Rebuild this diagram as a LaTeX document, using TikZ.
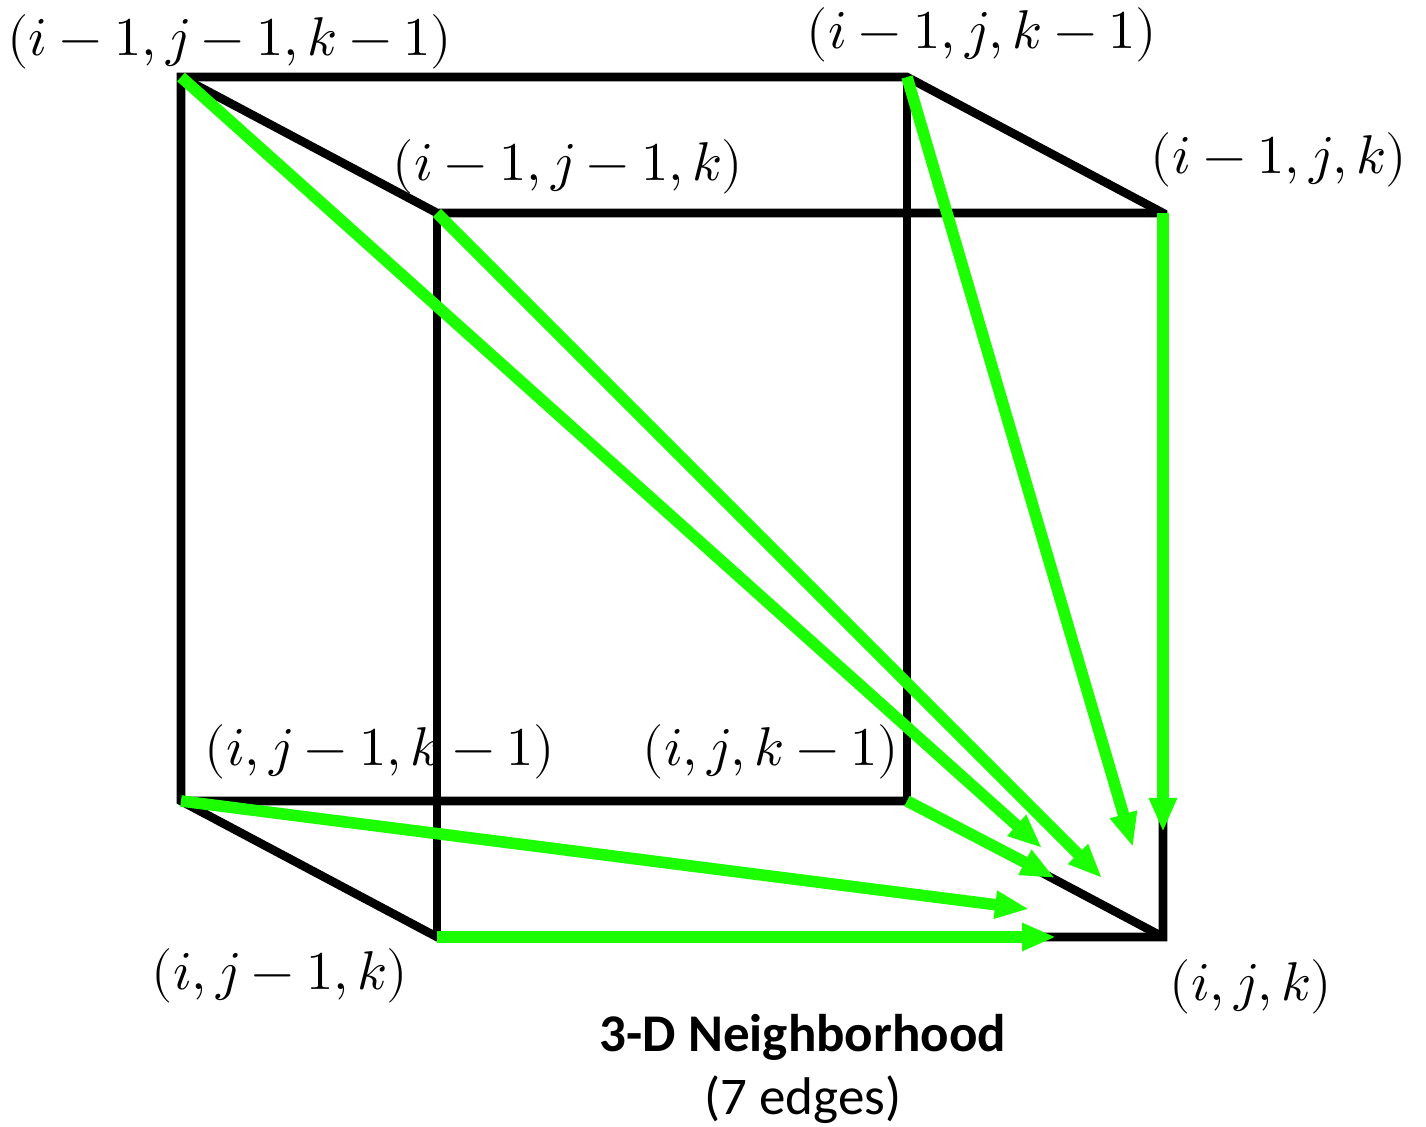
\documentclass[tikz,border=0pt]{standalone}
\usepackage{fontspec}
\usepackage{unicode-math}
\setsansfont{Carlito}
\setmathfont{Latin Modern Math}
\usetikzlibrary{arrows.meta}

\definecolor{nbrgreen}{RGB}{28,255,0}

\begin{document}
\begin{tikzpicture}[
    x=0.5pt, y=-0.5pt,
    >={Triangle[length=17pt, width=13pt]},
    % Styling for cube and neighbour edges
    cube/.style={draw=black, line width=4.3pt},
    nbr/.style={draw=nbrgreen, line width=5.8pt, ->},
    lbl/.style={inner sep=0pt, font=\fontsize{27.3}{31}\selectfont},
    caption/.style={inner sep=0pt, align=center, font=\sffamily\fontsize{26.5}{31}\selectfont}
]
    \useasboundingbox (0,0) rectangle (1426,1127);

    % Cube Corners (pixel grid, y pointing down)
    \coordinate (c111) at (181,77);   % (i-1,j-1,k-1)
    \coordinate (c101) at (907,77);   % (i-1,j,k-1)
    \coordinate (c110) at (437,213);  % (i-1,j-1,k)
    \coordinate (c100) at (1163,213); % (i-1,j,k)
    \coordinate (c011) at (181,801);  % (i,j-1,k-1)
    \coordinate (c001) at (907,801);  % (i,j,k-1)
    \coordinate (c010) at (437,937);  % (i,j-1,k)
    \coordinate (c000) at (1163,937); % (i,j,k)

    % Arrow Tips (stop short of the target corner)
    \coordinate (t111) at (1042,848);
    \coordinate (t110) at (1102,878);
    \coordinate (t101) at (1133,847);
    \coordinate (t100) at (1163,832);
    \coordinate (t011) at (1029,909);
    \coordinate (t001) at (1055,878);
    \coordinate (t010) at (1056,937);

    % Cube Wireframe
    \draw[cube] (c111) -- (c101) -- (c100) -- (c000) -- (c010) -- (c011) -- cycle;
    \draw[cube] (c111) -- (c110) -- (c100);
    \draw[cube] (c110) -- (c010);
    \draw[cube] (c101) -- (c001);
    \draw[cube] (c011) -- (c001) -- (c000);

    % Neighbour Edges into (i,j,k)
    \draw[nbr] (c111) -- (t111);
    \draw[nbr] (c110) -- (t110);
    \draw[nbr] (c101) -- (t101);
    \draw[nbr] (c100) -- (t100);
    \draw[nbr] (c011) -- (t011);
    \draw[nbr] (c001) -- (t001);
    \draw[nbr] (c010) -- (t010);

    % Corner Labels
    \node[lbl] (L111) at (230,42)  {$(i-1,j-1,k-1)$};
    \node[lbl] (L101) at (982,35)  {$(i-1,j,k-1)$};
    \node[lbl] (L110) at (568,167) {$(i-1,j-1,k)$};
    \node[lbl] (L100) at (1279,160) {$(i-1,j,k)$};
    \node[lbl] (L011) at (380,752) {$(i,j-1,k-1)$};
    \node[lbl] (L001) at (771,752) {$(i,j,k-1)$};
    \node[lbl] (L010) at (280,976) {$(i,j-1,k)$};
    \node[lbl] (L000) at (1251,987) {$(i,j,k)$};

    % Caption
    \node[caption] (ttl) at (803,1037) {\bfseries 3-D Neighborhood};
    \node[caption] (sub) at (803,1100) {(7 edges)};

\end{tikzpicture}
\end{document}
